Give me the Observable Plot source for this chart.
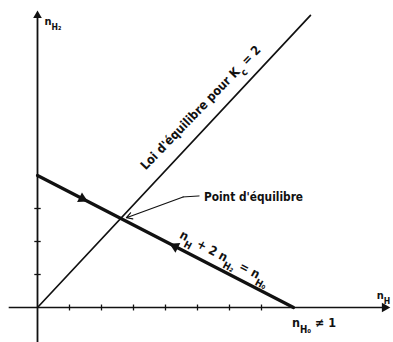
<!DOCTYPE html>
<html><head><meta charset="utf-8">
<script src="https://cdn.jsdelivr.net/npm/d3@7"></script>
<script src="https://cdn.jsdelivr.net/npm/@observablehq/plot@0.6"></script>
<style>body{margin:0;background:#fff}</style>
</head><body><div id="chart"></div>
<script>
// Balance line n_H + 2 n_H2 = n_H0
const balanceX = [0, 8];
const balanceY = [4, 0];
// Equilibrium law for Kc = 2
const equilX = [0, 8.53];
const equilY = [0, 8.85];
// Equilibrium point
const eqPoint = [2.68, 2.68];
// Axis extents
const xAxisExtent = [-0.9, 10.85];
const yAxisExtent = [-1.1, 8.85];
// Tick values
const xTicks = [1, 2, 3, 4, 5, 6, 7];
const yTicks = [1, 2, 3];
// Evolution arrows on the balance line (x position, direction toward equilibrium)
const flowX = [1.4, 4.3];
const flowDir = [1, -1];
// Labels
const labelText = ["n_{H₂}", "n_{H}", "n_{H₀} ≠ 1", "n_{H} + 2 n_{H₂} = n_{H₀}", "Loi d'équilibre pour K_{c} = 2", "Point d'équilibre"];
const labelX = [0.22, 10.6, 7.95, 5.85, 5.1, 5.2];
const labelY = [8.68, 0.36, -0.47, 1.52, 6.05, 3.33];
const labelAngle = [0, 0, 0, 28, -46, 0];
const labelAnchor = ["start", "start", "start", "middle", "middle", "start"];
const labelSize = [11, 11, 12.5, 12.5, 12.5, 11.8];
// Leader from the label to the equilibrium point
const leaderX = [5.05, 4.55];
const leaderY = [3.38, 3.35];

const line = (xs, ys) => xs.map((x, i) => ({x, y: ys[i]}));
const slope = (balanceY[1] - balanceY[0]) / (balanceX[1] - balanceX[0]);
const flow = flowX.map((x, i) => ({x, y: balanceY[0] + slope * x, dir: flowDir[i]}));
const labels = labelText.map((t, i) => ({t, x: labelX[i], y: labelY[i], a: labelAngle[i], anchor: labelAnchor[i], s: labelSize[i]}));
const font = "'DejaVu Sans Condensed', 'Liberation Sans Narrow', sans-serif";

const plot = Plot.plot({
  width: 393,
  height: 342,
  x: {domain: [0, 11], range: [37, 389], axis: null},
  y: {domain: [0, 9], range: [307, 10], axis: null},
  style: {background: "#fff"},
  marks: [
    // axes
    Plot.link([{}], {x1: xAxisExtent[0], x2: xAxisExtent[1], y1: 0, y2: 0, stroke: "#111", strokeWidth: 1.6}),
    Plot.link([{}], {x1: 0, x2: 0, y1: yAxisExtent[0], y2: yAxisExtent[1], stroke: "#111", strokeWidth: 1.8}),
    Plot.dot([{}], {x: xAxisExtent[1], y: 0, symbol: "triangle", rotate: 90, r: 3.6, fill: "#111", stroke: "none"}),
    Plot.dot([{}], {x: 0, y: yAxisExtent[1], symbol: "triangle", rotate: 0, r: 3.2, fill: "#111", stroke: "none"}),
    Plot.link(xTicks, {x1: d => d, x2: d => d, y1: -0.09, y2: 0.09, stroke: "#111", strokeWidth: 1.3}),
    Plot.link(yTicks, {y1: d => d, y2: d => d, x1: -0.1, x2: 0.1, stroke: "#111", strokeWidth: 1.3}),
    // equilibrium law
    Plot.line(line(equilX, equilY), {x: "x", y: "y", stroke: "#111", strokeWidth: 1.7}),
    // balance line
    Plot.line(line(balanceX, balanceY), {x: "x", y: "y", stroke: "#111", strokeWidth: 3.2}),
    Plot.dot(flow, {x: "x", y: "y", symbol: "triangle", r: 4, fill: "#111", stroke: "none",
      rotate: d => d.dir > 0 ? 90 + 26.9 : -90 + 26.9}),
    // leader
    Plot.line(line(leaderX, leaderY), {x: "x", y: "y", stroke: "#111", strokeWidth: 1}),
    Plot.arrow([{}], {x1: leaderX[1], y1: leaderY[1], x2: eqPoint[0] + 0.1, y2: eqPoint[1] + 0.04, stroke: "#111", strokeWidth: 1.2, headLength: 8}),
    // labels
    Plot.text(labels.filter(d => d.anchor === "start"), {x: "x", y: "y", text: "t", rotate: "a", fontSize: "s", textAnchor: "start", fontWeight: "bold", fontFamily: font, fill: "#111"}),
    Plot.text(labels.filter(d => d.anchor === "middle"), {x: "x", y: "y", text: "t", rotate: "a", fontSize: "s", textAnchor: "middle", fontWeight: "bold", fontFamily: font, fill: "#111"})
  ]
});

plot.querySelectorAll("text").forEach(t => {
  const s = t.textContent;
  if (!s.includes("_{")) return;
  t.textContent = "";
  for (const p of s.split(/(_\{[^}]*\})/)) {
    if (!p) continue;
    const ts = document.createElementNS("http://www.w3.org/2000/svg", "tspan");
    if (p.startsWith("_{")) {
      ts.textContent = p.slice(2, -1);
      ts.setAttribute("baseline-shift", "sub");
      ts.setAttribute("font-size", "78%");
    } else ts.textContent = p;
    t.appendChild(ts);
  }
});
document.getElementById("chart").appendChild(plot);
</script>
</body></html>
